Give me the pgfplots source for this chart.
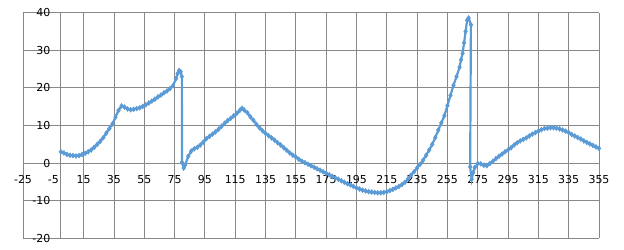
\documentclass[border=0pt]{standalone}
\usepackage{pgfplots}
\pgfplotsset{compat=1.18}
\usepackage{fontspec}
\setmainfont{DejaVu Sans}
\definecolor{ser}{RGB}{91,155,213}
\definecolor{gridc}{RGB}{136,136,136}
\begin{document}
\begin{tikzpicture}
\begin{axis}[
  scale only axis,
  width=576bp, height=225.6bp,
  xmin=-25, xmax=355, ymin=-20, ymax=40,
  axis lines=middle,
  axis line style={-, draw=gridc, line width=0.8pt},
  hide obscured x ticks=false, hide obscured y ticks=false,
  xtick={-25,15,35,55,75,95,115,135,155,175,195,215,235,255,275,295,315,335,355},
  extra x ticks={-5},
  extra x tick style={grid=none},
  ytick={-20,-10,0,10,20,30,40},
  major tick length=0pt,
  grid=major,
  major grid style={draw=gridc, line width=0.8pt},
  tick label style={font=\fontsize{11}{13}\selectfont, text=black},
  xticklabel style={yshift=-9bp},
  yticklabel style={xshift=-7bp},
  /pgf/number format/assume math mode=true,
  clip=false,
]
\addplot[color=ser, line width=2.2pt, mark=diamond*, mark size=2.4pt, mark options={fill=ser, draw=ser, line width=0.6pt}] coordinates {
(0,3.0)(2,2.7)(4,2.3)(6,2.1)(8,2.0)(10,1.9)(12,2.0)(14,2.3)(16,2.6)(18,3.0)
(20,3.5)(22,4.2)(24,5.0)(26,5.8)(28,6.8)(30,8.0)(32,9.2)(34,10.4)(36,12.2)(38,14.0)
(40,15.2)(42,14.9)(44,14.4)(46,14.2)(48,14.3)(50,14.5)(52,14.7)(54,15.1)(56,15.5)(58,16.0)
(60,16.5)(62,17.0)(64,17.6)(66,18.1)(68,18.7)(70,19.2)(72,19.8)(74,20.6)(76,22.5)(77,23.8)
(78,24.6)(79,24.3)(79.8,23.0)(79.9,0.2)(81,-1.3)(82,-0.5)(84,1.8)(86,3.2)(88,3.8)(90,4.2)
(92,4.8)(94,5.6)(96,6.5)(98,7.1)(100,7.7)(102,8.3)(104,9.0)(106,9.8)(108,10.6)(110,11.3)
(112,11.9)(114,12.6)(116,13.2)(118,14.0)(119.5,14.6)(121,14.1)(123,13.4)(125,12.3)(127,11.4)(129,10.3)
(131,9.4)(133,8.6)(135,7.9)(137,7.3)(139,6.7)(141,6.1)(143,5.4)(145,4.8)(147,4.1)(149,3.4)
(151,2.7)(153,2.1)(155,1.6)(157,1.0)(159,0.5)(161,0.1)(163,-0.3)(165,-0.7)(167,-1.1)(169,-1.5)
(171,-1.9)(173,-2.3)(175,-2.7)(177,-3.1)(179,-3.5)(181,-3.9)(183,-4.3)(185,-4.7)(187,-5.1)(189,-5.5)
(191,-5.8)(193,-6.2)(195,-6.6)(197,-6.9)(199,-7.2)(201,-7.4)(203,-7.6)(205,-7.7)(207,-7.8)(209,-7.9)
(211,-7.9)(213,-7.8)(215,-7.6)(217,-7.3)(219,-7.0)(221,-6.6)(223,-6.2)(225,-5.7)(227,-5.1)(229,-4.2)
(231,-3.2)(233,-2.3)(235,-1.3)(237,-0.3)(239,0.8)(241,2.1)(243,3.5)(245,5.0)(247,6.8)(249,8.8)
(251,10.7)(253,12.6)(255,15.3)(257,18.0)(259,20.7)(261,23.0)(263,25.5)(264,27.5)(265,29.2)(266,32.0)
(267,35.0)(268,38.0)(269,38.6)(270.5,36.8)(270,-1.0)(271,-4.3)(272,-2.5)(273,-1.2)(275,-0.1)(277,-0.2)
(279,-0.6)(281,-0.7)(283,-0.1)(285,0.5)(287,1.2)(289,1.8)(291,2.4)(293,3.0)(295,3.5)(297,4.1)
(299,4.8)(301,5.4)(303,5.9)(305,6.3)(307,6.7)(309,7.2)(311,7.7)(313,8.1)(315,8.5)(317,8.9)
(319,9.2)(321,9.3)(323,9.4)(325,9.4)(327,9.3)(329,9.1)(331,8.8)(333,8.5)(335,8.1)(337,7.6)
(339,7.2)(341,6.8)(343,6.4)(345,5.9)(347,5.5)(349,5.1)(351,4.7)(353,4.3)(355,3.9)
};
\end{axis}
\path ([shift={(-23bp,-11.7bp)}]current axis.south west) rectangle ([shift={(25bp,12.7bp)}]current axis.north east);
\end{tikzpicture}
\end{document}
